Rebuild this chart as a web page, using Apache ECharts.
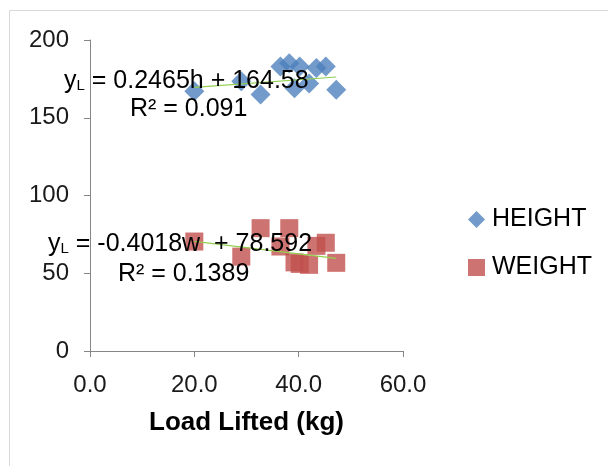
<!DOCTYPE html>
<html><head><meta charset="utf-8">
<script src="https://cdn.jsdelivr.net/npm/echarts@6/dist/echarts.min.js"></script>
<style>html,body{margin:0;padding:0;background:#fff}#c{width:608px;height:466px}</style>
</head><body><div id="c"></div>
<script>
var loadLifted = [20, 29, 32.7, 36.5, 38.2, 39.2, 40.2, 42, 43.4, 45.2, 47.2];
var heightVals = [167, 173.5, 165, 183, 185, 169, 183, 172, 182, 183, 168];
var weightVals = [70.4, 60.7, 79, 67.2, 79, 57, 56, 55.4, 67.6, 69.6, 56.7];
var heightFit = {slope: 0.2465, intercept: 164.58};
var weightFit = {slope: -0.4018, intercept: 78.592};
var xTicks = [0, 20, 40, 60];
var yTicks = [0, 50, 100, 150, 200];

function pairs(xs, ys){ return xs.map(function(x,i){return [x, ys[i]];}); }
var xMin = Math.min.apply(null, loadLifted), xMax = Math.max.apply(null, loadLifted);
function fitLine(f){ return [[xMin, f.slope*xMin+f.intercept],[xMax, f.slope*xMax+f.intercept]]; }

var chart = echarts.init(document.getElementById('c'));
var font = 'Liberation Sans, Arial, sans-serif';
var axisGray = '#868686';
var eqRich = {
  y:{fontFamily: font, fontSize: 25, fill:'#000'},
  s:{fontFamily: font, fontSize: 15, fill:'#000', padding:[9,0,0,0]},
  n:{fontFamily: font, fontSize: 25, fill:'#000'}
};
chart.setOption({
  animation: false,
  grid: {left: 90, right: 205, top: 40, bottom: 115},
  xAxis: {
    type: 'value', min: xTicks[0], max: xTicks[xTicks.length-1], interval: 20,
    name: 'Load Lifted (kg)', nameLocation: 'middle', nameGap: 59,
    nameTextStyle: {fontFamily: font, fontSize: 26, fontWeight: 'bold', color: '#000'},
    axisLine: {lineStyle: {color: axisGray}},
    axisTick: {show: true, length: 6, lineStyle: {color: axisGray}},
    splitLine: {show: false},
    axisLabel: {fontFamily: font, fontSize: 24, color: '#1a1a1a', margin: 22,
      formatter: function(v){ return v.toFixed(1); }}
  },
  yAxis: {
    type: 'value', min: yTicks[0], max: yTicks[yTicks.length-1], interval: 50,
    axisLine: {show: true, lineStyle: {color: axisGray}},
    axisTick: {show: true, length: 6, lineStyle: {color: axisGray}},
    splitLine: {show: false},
    axisLabel: {fontFamily: font, fontSize: 24, color: '#1a1a1a', margin: 21}
  },
  legend: {
    orient: 'vertical', left: 463, top: 202, itemGap: 23, itemWidth: 17, itemHeight: 17,
    textStyle: {fontFamily: font, fontSize: 25, color: '#000', padding: [0,0,0,2]},
    data: [{name: 'HEIGHT', icon: 'diamond'}, {name: 'WEIGHT', icon: 'rect'}]
  },
  series: [
    {name: 'HEIGHT', type: 'scatter', symbol: 'diamond', symbolSize: 20,
     itemStyle: {color: '#4f81bd'}, data: pairs(loadLifted, heightVals)},
    {name: 'WEIGHT', type: 'scatter', symbol: 'rect', symbolSize: 18,
     itemStyle: {color: '#c0504d'}, data: pairs(loadLifted, weightVals)},
    {name: 'hfit', type: 'line', showSymbol: false, symbol: 'none', data: fitLine(heightFit),
     lineStyle: {color: '#92d050', width: 1.2}, z: 3},
    {name: 'wfit', type: 'line', showSymbol: false, symbol: 'none', data: fitLine(weightFit),
     lineStyle: {color: '#92d050', width: 1.2}, z: 3}
  ],
  graphic: [
    {type: 'rect', shape: {x: 9.5, y: 10.5, width: 620, height: 480},
     style: {fill: 'none', stroke: '#d9d9d9', lineWidth: 1}, silent: true, z: -10},
    {type: 'text', x: 64, y: 81, z: 100, style: {
      text: '{y|y}{s|L}{n| = 0.2465h + 164.58}', verticalAlign: 'middle', rich: eqRich}},
    {type: 'text', x: 130, y: 109, z: 100, style: {
      text: 'R² = 0.091', fontFamily: font, fontSize: 25, fill: '#000', verticalAlign: 'middle'}},
    {type: 'text', x: 48, y: 244, z: 100, style: {
      text: '{y|y}{s|L}{n| = -0.4018w  + 78.592}', verticalAlign: 'middle', rich: eqRich}},
    {type: 'text', x: 118, y: 274, z: 100, style: {
      text: 'R² = 0.1389', fontFamily: font, fontSize: 25, fill: '#000', verticalAlign: 'middle'}}
  ]
});
</script></body></html>
